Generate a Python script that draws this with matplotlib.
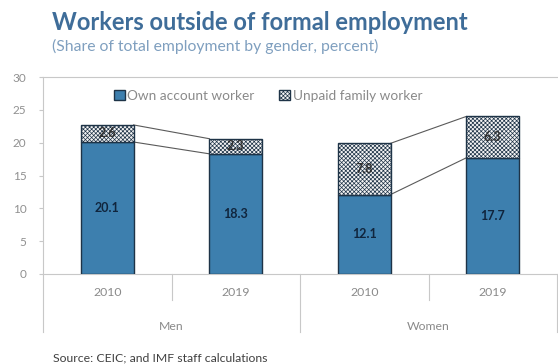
import matplotlib
matplotlib.use("Agg")
import matplotlib.pyplot as plt
from matplotlib.transforms import blended_transform_factory

plt.rcParams['font.family'] = ['Lato', 'DejaVu Sans']
plt.rcParams['hatch.color'] = '#8a8a8a'
plt.rcParams['hatch.linewidth'] = 0.5

years = ["2010", "2019", "2010", "2019"]
groups = ["Men", "Women"]
own_account = [20.1, 18.3, 12.1, 17.7]
unpaid_family = [2.6, 2.3, 7.8, 6.3]
yticks = [0, 5, 10, 15, 20, 25, 30]

W, H = 558, 364
fig = plt.figure(figsize=(W / 100, H / 100), dpi=100)
ax = fig.add_axes([43 / W, 1 - 274 / H, (557 - 43) / W, (274 - 77) / H])

blue = '#3d7fae'
edge = '#1e3347'
grey_axis = '#c8c8c8'
x = list(range(len(years)))
bw = 0.41

ax.bar(x, own_account, width=bw, color=blue, edgecolor=edge, linewidth=1.0,
       label='Own account worker', zorder=3)
ax.bar(x, unpaid_family, width=bw, bottom=own_account, color='#f4f4f4',
       edgecolor=edge, linewidth=1.0, hatch='xxxxxxxx', label='Unpaid family worker', zorder=3)

for i in x:
    ax.text(i, own_account[i] / 2, f"{own_account[i]:.1f}", ha='center', va='center',
            fontsize=9, fontweight='bold', color='#10253d', zorder=5)
    ax.text(i, own_account[i] + unpaid_family[i] / 2, f"{unpaid_family[i]:.1f}", ha='center',
            va='center', fontsize=9, fontweight='bold', color='#303030', zorder=5)

for a, b in [(0, 1), (2, 3)]:
    ax.plot([a + bw / 2, b - bw / 2], [own_account[a], own_account[b]], color='#5a5a5a', lw=0.8, zorder=2)
    ta = own_account[a] + unpaid_family[a]
    tb = own_account[b] + unpaid_family[b]
    ax.plot([a + bw / 2, b - bw / 2], [ta, tb], color='#5a5a5a', lw=0.8, zorder=2)

ax.set_xlim(-0.5, 3.5)
ax.set_ylim(0, 30)
ax.set_yticks(yticks)
ax.set_yticklabels([str(v) for v in yticks], fontsize=8.5, color='#909090')
ax.tick_params(axis='y', length=3, color=grey_axis, pad=9)
ax.set_xticks([])

ax.spines['right'].set_visible(False)
for s in ['top', 'left', 'bottom']:
    ax.spines[s].set_color(grey_axis)
    ax.spines[s].set_linewidth(0.8)

trans = blended_transform_factory(ax.transData, ax.transAxes)
px = 1 / (274 - 77)
for i, yr in enumerate(years):
    ax.text(i, -19 * px, yr, transform=trans, ha='center', va='center', fontsize=8.8, color='#8a8a8a')
for i, g in enumerate(groups):
    ax.text(2 * i + 0.5, -53 * px, g, transform=trans, ha='center', va='center', fontsize=8.8, color='#8a8a8a')
for xb in [0.5, 2.5]:
    ax.plot([xb, xb], [0, -26 * px], transform=trans, color=grey_axis, lw=0.8, clip_on=False)
for xb in [-0.5, 1.5, 3.5]:
    ax.plot([xb, xb], [0, -58 * px], transform=trans, color=grey_axis, lw=0.8, clip_on=False)

leg = ax.legend(loc='center', bbox_to_anchor=(268 / W, 1 - 96 / H), bbox_transform=fig.transFigure,
                ncol=2, frameon=False, fontsize=9.8, handlelength=0.8, handleheight=0.8,
                handletextpad=0.2, columnspacing=1.8)
for t in leg.get_texts():
    t.set_color('#8a8a8a')

fig.text(52 / W, 1 - 23 / H, "Workers outside of formal employment", fontsize=17, fontweight='bold',
         color='#3f6d99', ha='left', va='center')
fig.text(52 / W, 1 - 46 / H, "(Share of total employment by gender, percent)", fontsize=11.3,
         color='#7f9fbf', ha='left', va='center')
fig.text(53 / W, 1 - 358 / H, "Source: CEIC; and IMF staff calculations", fontsize=8.8,
         color='#404040', ha='left', va='center')

fig.savefig('out.png', dpi=100)
